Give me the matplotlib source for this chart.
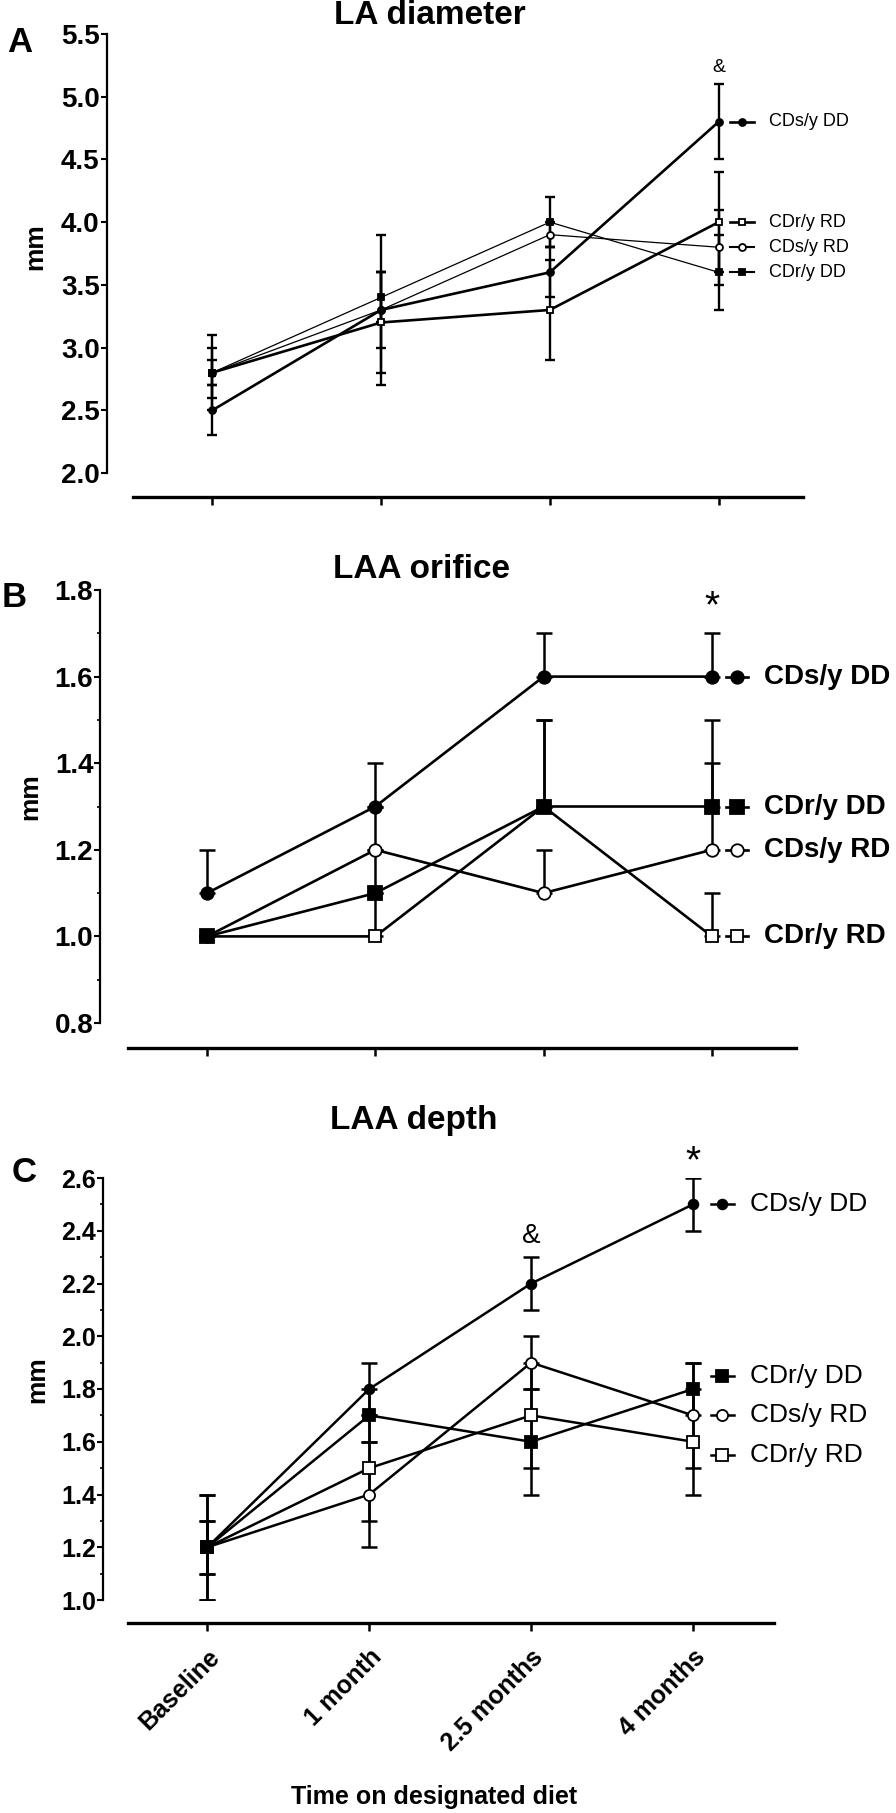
import matplotlib
matplotlib.use("Agg")
import matplotlib.pyplot as plt
from matplotlib.ticker import MultipleLocator, FormatStrFormatter

plt.rcParams["font.family"] = ["Liberation Sans", "DejaVu Sans"]

W, H = 896, 1813

TIMEPOINTS = ["Baseline", "1 month", "2.5 months", "4 months"]
GROUPS = ["CDs/y DD", "CDr/y DD", "CDs/y RD", "CDr/y RD"]

# LA diameter (mm), rows follow GROUPS
LA_MEAN = [[2.5, 3.3, 3.6, 4.8],
           [2.8, 3.4, 4.0, 3.6],
           [2.8, 3.3, 3.9, 3.8],
           [2.8, 3.2, 3.3, 4.0]]
LA_ERR = [[0.2, 0.6, 0.2, 0.3],
          [0.1, 0.2, 0.2, 0.3],
          [0.2, 0.3, 0.1, 0.3],
          [0.3, 0.4, 0.4, 0.4]]

# LAA orifice (mm), only upper error bars shown
ORI_MEAN = [[1.1, 1.3, 1.6, 1.6],
            [1.0, 1.1, 1.3, 1.3],
            [1.0, 1.2, 1.1, 1.2],
            [1.0, 1.0, 1.3, 1.0]]
ORI_ERR = [[0.1, 0.1, 0.1, 0.1],
           [0.0, 0.1, 0.2, 0.2],
           [0.0, 0.1, 0.1, 0.2],
           [0.0, 0.1, 0.2, 0.1]]

# LAA depth (mm)
DEP_MEAN = [[1.2, 1.8, 2.2, 2.5],
            [1.2, 1.7, 1.6, 1.8],
            [1.2, 1.4, 1.9, 1.7],
            [1.2, 1.5, 1.7, 1.6]]
DEP_ERR = [[0.2, 0.1, 0.1, 0.1],
           [0.1, 0.1, 0.2, 0.1],
           [0.2, 0.2, 0.1, 0.2],
           [0.1, 0.2, 0.2, 0.2]]

# significance marks: (symbol, timepoint index, y)
LA_MARKS = [("&", 3, 5.23)]
ORI_MARKS = [("*", 3, 1.76)]
DEP_MARKS = [("&", 2, 2.38), ("*", 3, 2.66)]

# where the group labels sit on the right (y, data units)
LA_LEG_Y = [4.8, 3.6, 3.8, 4.0]
ORI_LEG_Y = [1.6, 1.3, 1.2, 1.0]
DEP_LEG_Y = [2.5, 1.85, 1.70, 1.55]

MARKERS = ["o", "s", "o", "s"]
FILLED = [True, True, False, False]
ZORDER = [6, 5, 4, 3]

fig = plt.figure(figsize=(W / 100, H / 100), dpi=100)


def px_axes(left, right, top, bottom):
    return fig.add_axes([left / W, 1 - bottom / H, (right - left) / W, (bottom - top) / H])


def style_axes(ax, xlim, ylim, major, minor, left_out, bottom_out, tick_fs):
    ax.set_xlim(*xlim)
    ax.set_ylim(*ylim)
    for side in ("top", "right"):
        ax.spines[side].set_visible(False)
    ax.spines["left"].set_linewidth(1.6)
    ax.spines["bottom"].set_linewidth(2.4)
    ax.spines["left"].set_position(("outward", left_out))
    ax.spines["bottom"].set_position(("outward", bottom_out))
    ax.yaxis.set_major_locator(MultipleLocator(major))
    if minor:
        ax.yaxis.set_minor_locator(MultipleLocator(minor))
    ax.yaxis.set_major_formatter(FormatStrFormatter("%.1f"))
    ax.tick_params(axis="y", which="major", length=4, width=1.5, pad=1,
                   labelsize=tick_fs)
    ax.tick_params(axis="y", which="minor", length=2.5, width=1.2)
    ax.tick_params(axis="x", length=6, width=1.8)
    ax.set_xticks(range(len(TIMEPOINTS)))
    for lab in ax.get_yticklabels():
        lab.set_fontweight("bold")


def draw_series(ax, means, errs, upper_only, lws, ms, elw, cap, leg_y, leg_mx,
                leg_half, leg_tx, leg_fs, leg_weight):
    x = list(range(len(TIMEPOINTS)))
    for i, name in enumerate(GROUPS):
        if upper_only:
            yerr = [[0] * len(x), errs[i]]
        else:
            yerr = errs[i]
        ax.errorbar(x, means[i], yerr=yerr, fmt="none", ecolor="black",
                    elinewidth=elw, capsize=cap, capthick=elw, zorder=2)
        face = "black" if FILLED[i] else "white"
        size = ms[i]
        ax.plot(x, means[i], color="black", lw=lws[i], marker=MARKERS[i],
                markersize=size, markerfacecolor=face, markeredgecolor="black",
                markeredgewidth=1.3, zorder=ZORDER[i], clip_on=False)
        # group label on the right
        ax.plot([leg_mx - leg_half, leg_mx + leg_half], [leg_y[i], leg_y[i]],
                color="black", lw=max(lws[i], 1.5), marker=None, clip_on=False,
                zorder=ZORDER[i])
        ax.plot([leg_mx], [leg_y[i]], marker=MARKERS[i], markersize=size,
                markerfacecolor=face, markeredgecolor="black",
                markeredgewidth=1.3, clip_on=False, zorder=ZORDER[i])
        ax.text(leg_tx, leg_y[i], name, fontsize=leg_fs, fontweight=leg_weight,
                ha="left", va="center")


def add_marks(ax, marks, sizes):
    for (sym, xi, yv), fs in zip(marks, sizes):
        ax.text(xi, yv, sym, fontsize=fs, ha="center", va="center")


# ---- Panel A: LA diameter
axA = px_axes(133, 803, 34, 473)
style_axes(axA, (-0.47, 3.5), (2.0, 5.5), 0.5, None, 19, 17, 20)
axA.set_xticklabels([])
draw_series(axA, LA_MEAN, LA_ERR, False,
            lws=[1.9, 0.9, 0.9, 1.9], ms=[5, 5, 5, 5], elw=1.7, cap=3.5,
            leg_y=LA_LEG_Y, leg_mx=3.14, leg_half=0.07, leg_tx=3.30,
            leg_fs=13, leg_weight="normal")
add_marks(axA, LA_MARKS, [14])

# ---- Panel B: LAA orifice
axB = px_axes(128, 796, 590, 1023)
style_axes(axB, (-0.47, 3.5), (0.8, 1.8), 0.2, 0.1, 20, 18, 20)
axB.set_xticklabels([])
draw_series(axB, ORI_MEAN, ORI_ERR, True,
            lws=[1.9, 1.9, 1.9, 1.9], ms=[9, 10, 9, 9], elw=1.8, cap=6,
            leg_y=ORI_LEG_Y, leg_mx=3.15, leg_half=0.065, leg_tx=3.31,
            leg_fs=20, leg_weight="bold")
add_marks(axB, ORI_MARKS, [28])

# ---- Panel C: LAA depth
axC = px_axes(128, 774, 1178, 1600)
style_axes(axC, (-0.49, 3.5), (1.0, 2.6), 0.2, 0.1, 18, 16.5, 18)
axC.set_xticklabels(TIMEPOINTS, rotation=45, ha="right", rotation_mode="anchor",
                    fontsize=18, fontweight="bold")
axC.tick_params(axis="x", pad=10)
draw_series(axC, DEP_MEAN, DEP_ERR, False,
            lws=[1.8, 1.8, 1.8, 1.8], ms=[7, 9, 8, 8], elw=1.8, cap=6,
            leg_y=DEP_LEG_Y, leg_mx=3.18, leg_half=0.07, leg_tx=3.35,
            leg_fs=19, leg_weight="normal")
add_marks(axC, DEP_MARKS, [20, 28])

# ---- titles, panel letters, axis titles
for text, x, y in [("LA diameter", 430, 15), ("LAA orifice", 421, 569),
                   ("LAA depth", 414, 1120)]:
    fig.text(x / W, 1 - y / H, text, fontsize=24, fontweight="bold",
             ha="center", va="center")
for text, x, y in [("A", 20, 43), ("B", 14, 597), ("C", 24, 1172)]:
    fig.text(x / W, 1 - y / H, text, fontsize=25, fontweight="bold",
             ha="center", va="center")
for x, y in [(35, 247), (30, 797), (37, 1380)]:
    fig.text(x / W, 1 - y / H, "mm", fontsize=19, fontweight="bold",
             rotation=90, ha="center", va="center")
fig.text(434 / W, 1 - 1797 / H, "Time on designated diet", fontsize=18,
         fontweight="bold", ha="center", va="center")

fig.savefig("out.png", dpi=100, facecolor="white")
